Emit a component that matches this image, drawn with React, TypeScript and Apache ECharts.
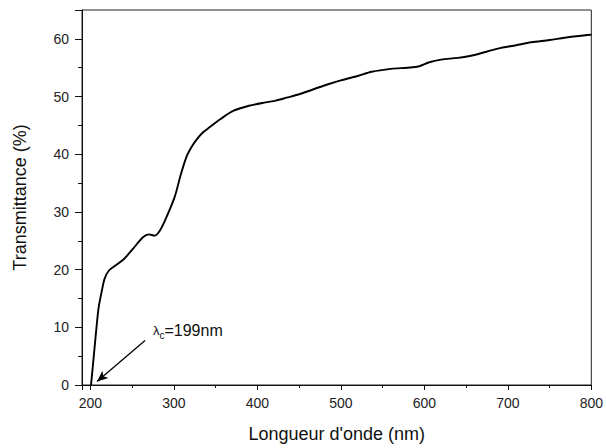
import React, { useEffect, useRef } from "react";
import * as echarts from "echarts";

const wavelength = [200.8, 203, 205, 207.5, 210, 214, 217, 222, 230, 240, 251, 263, 270, 277, 283, 290, 301, 308, 315, 321, 327, 335, 343, 356, 371, 390, 410, 422, 435, 450, 482, 500, 521, 537, 560, 580, 593, 605, 620, 640, 660, 688, 710, 728, 750, 768, 785, 800];
const transmittance = [0, 3.3, 6.4, 10.2, 13.5, 16.5, 18.4, 19.8, 20.7, 21.8, 23.6, 25.6, 26.1, 25.9, 26.7, 28.7, 32.6, 36.3, 39.5, 41.2, 42.5, 43.8, 44.7, 46.1, 47.5, 48.4, 49.0, 49.3, 49.8, 50.4, 52.0, 52.8, 53.6, 54.3, 54.8, 55.0, 55.2, 55.9, 56.4, 56.7, 57.2, 58.3, 58.9, 59.4, 59.8, 60.2, 60.5, 60.7];

const xLimits = [190, 800];
const yLimits = [0, 65];
const cutoffLabel = "199nm";
const arrowStart = [265.5, 7.7];
const arrowEnd = [208, 0.6];
const labelAnchor = [275, 9.4];

const FONT = "Liberation Sans, Arial, sans-serif";

export default function App() {
  const ref = useRef<HTMLDivElement>(null);
  useEffect(() => {
    if (!ref.current) return;
    const chart = echarts.init(ref.current, undefined, { renderer: "svg" });
    const data = wavelength.map((w, i) => [w, transmittance[i]]);
    chart.setOption({
      animation: false,
      backgroundColor: "#fff",
      textStyle: { fontFamily: FONT },
      grid: {
        left: 82,
        right: 13,
        top: 10,
        bottom: 57,
        show: true,
        borderColor: "#222",
        borderWidth: 1,
      },
      xAxis: {
        type: "value",
        min: xLimits[0],
        max: xLimits[1],
        splitNumber: 6,
        name: "Longueur d'onde (nm)",
        nameLocation: "middle",
        nameGap: 40,
        nameTextStyle: { fontSize: 18, color: "#111", fontFamily: FONT },
        axisLine: { show: true, lineStyle: { color: "#111", width: 1 } },
        axisTick: { show: true, length: 5, lineStyle: { color: "#111" } },
        minorTick: { show: true, splitNumber: 2, length: 3, lineStyle: { color: "#111" } },
        axisLabel: { showMinLabel: false, fontSize: 14, color: "#222", margin: 11, fontFamily: FONT },
        splitLine: { show: false },
      },
      yAxis: {
        type: "value",
        min: yLimits[0],
        max: yLimits[1],
        interval: 10,
        name: "Transmittance (%)",
        nameLocation: "middle",
        nameGap: 53,
        nameTextStyle: { fontSize: 18, color: "#111", fontFamily: FONT },
        axisLine: { show: true, lineStyle: { color: "#111", width: 1 } },
        axisTick: { show: true, length: 7, lineStyle: { color: "#111" } },
        minorTick: { show: true, splitNumber: 2, length: 4, lineStyle: { color: "#111" } },
        axisLabel: { showMaxLabel: false, fontSize: 14, color: "#222", margin: 13, fontFamily: FONT },
        splitLine: { show: false },
      },
      series: [
        {
          type: "line",
          data,
          smooth: 0.3,
          showSymbol: false,
          symbol: "none",
          lineStyle: { color: "#000", width: 1.9 },
          markLine: {
            silent: true,
            symbol: ["none", "arrow"],
            symbolSize: [7, 11],
            label: { show: false },
            lineStyle: { color: "#000", width: 1.3, type: "solid" },
            data: [[{ coord: arrowStart }, { coord: arrowEnd }]],
          },
          markPoint: {
            silent: true,
            symbol: "circle",
            symbolSize: 0,
            data: [
              {
                coord: labelAnchor,
                label: {
                  show: true,
                  position: "right",
                  distance: 0,
                  formatter: "{l|λ}{s|c}{n|=" + cutoffLabel + "}",
                  rich: {
                    l: { fontSize: 13, color: "#111", fontFamily: FONT },
                    s: { fontSize: 10, color: "#111", fontFamily: FONT, padding: [9, 0, 0, 0] },
                    n: { fontSize: 16, color: "#111", fontFamily: FONT },
                  },
                },
              },
            ],
          },
        },
      ],
    });
    return () => chart.dispose();
  }, []);
  return (
    <div
      ref={ref}
      style={{ position: "fixed", left: 0, top: 0, width: 606, height: 448 }}
    />
  );
}
